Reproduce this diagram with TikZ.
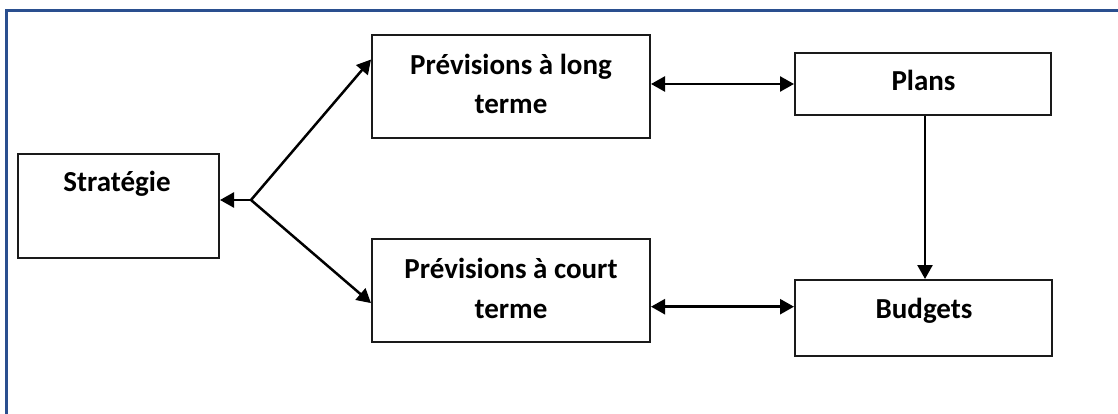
\documentclass[tikz,border=0pt]{standalone}
\usepackage{fontspec}
\setmainfont{Carlito}
\usetikzlibrary{arrows.meta,calc}
\definecolor{framebl}{HTML}{2A4F8F}
\definecolor{boxline}{HTML}{1A1A1A}
\begin{document}
\begin{tikzpicture}[x=1pt,y=-1pt,
  box/.style={draw=boxline,line width=2pt,inner sep=0pt,rectangle},
  lbl/.style={anchor=base,inner sep=0pt,font=\fontsize{29}{35}\selectfont\bfseries},
  arr/.style={line width=2.5pt,-{Triangle[length=14pt,width=15pt]}},
  arrb/.style={line width=2.5pt,{Triangle[length=14pt,width=15pt]}-{Triangle[length=14pt,width=15pt]}}]
\useasboundingbox (0,0) rectangle (1118,414);
% frame
\draw[framebl,line width=2.5pt] (6.5,430) -- (6.5,10.5) -- (1130,10.5);
% boxes
\node[box,minimum width=201pt,minimum height=104pt] (strat) at (118.5,206) {};
\node[box,minimum width=278pt,minimum height=103pt] (lt) at (511,86.5) {};
\node[box,minimum width=278pt,minimum height=103pt] (ct) at (511,290.5) {};
\node[box,minimum width=256pt,minimum height=62pt] (plans) at (923,84) {};
\node[box,minimum width=257pt,minimum height=76pt] (budgets) at (923.5,318) {};
% labels
\node[lbl] (tstrat) at (117,192) {Stratégie};
\node[lbl] (tlt1) at (511,74.5) {Prévisions à long};
\node[lbl] (tlt2) at (511,114) {terme};
\node[lbl] (tct1) at (511,278.5) {Prévisions à court};
\node[lbl] (tct2) at (511,318) {terme};
\node[lbl] (tplans) at (923.5,91) {Plans};
\node[lbl] (tbud) at (924,318) {Budgets};
% connectors
\coordinate (J) at (251,200);
\coordinate (ltin) at ($(lt.north west)!0.243!(lt.south west)$);
\coordinate (ctin) at ($(ct.north west)!0.62!(ct.south west)$);
\coordinate (bin) at ($(budgets.north west)!0.355!(budgets.south west)$);
\draw[arr] (J) -- (J -| strat.east);
\draw[arr] (J) -- (ltin);
\draw[arr] (J) -- (ctin);
\draw[arrb] (lt.east |- plans.west) -- (plans.west);
\draw[arrb] (ct.east |- bin) -- (bin);
\draw[arr] ([xshift=2pt]plans.south) -- ([xshift=2pt]plans.south |- budgets.north);
\end{tikzpicture}
\end{document}
